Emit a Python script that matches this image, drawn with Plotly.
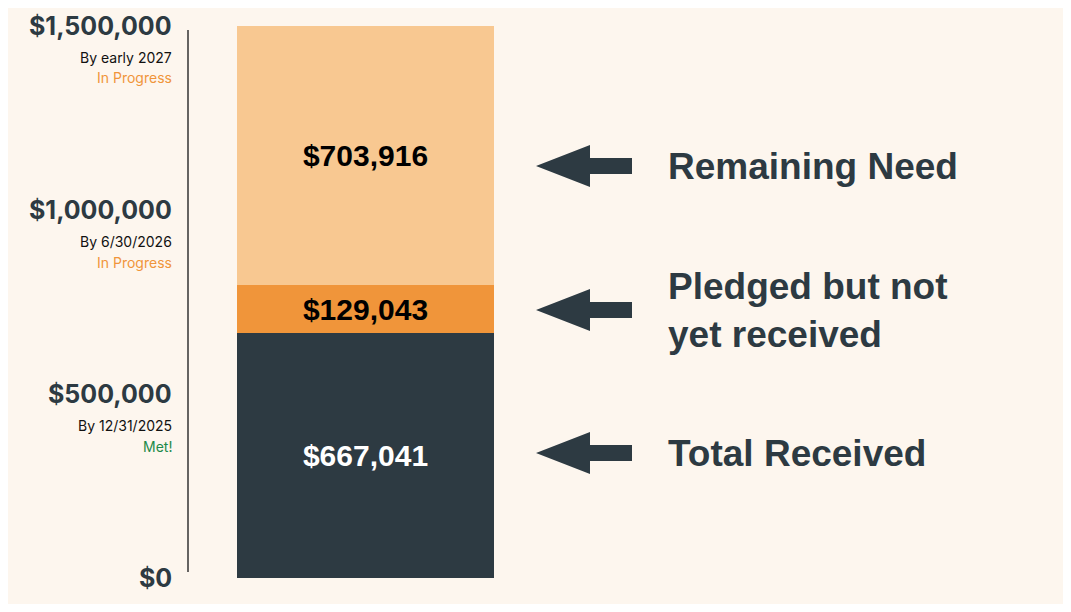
import plotly.graph_objects as go

segments = ["Total Received", "Pledged but not<br>yet received", "Remaining Need"]
values = [667041, 129043, 703916]
colors = ["#2d3a42", "#f0953a", "#f8c891"]
label_colors = ["white", "black", "black"]
label_y_px = [453, 310, 166]

ticks = [0, 500000, 1000000, 1500000]
tick_text = ["$0", "$500,000", "$1,000,000", "$1,500,000"]
tick_sub = [None, "By 12/31/2025", "By 6/30/2026", "By early 2027"]
tick_status = [None, "Met!", "In Progress", "In Progress"]
status_colors = {"Met!": "#1e8a4a", "In Progress": "#f0953a"}

OFF = 8  # page body margin
W, H = 1071 - 2 * OFF, 612 - 2 * OFF
L, TOP, BOT = 188 - OFF, 26 - OFF, 578 - OFF
PW = W - L
YMAX = 1500000

def px_x(p):  # reference pixel column -> paper x
    return (p - OFF - L) / PW

def px_y(p):  # reference pixel row -> paper y
    return (BOT - (p - OFF)) / (BOT - TOP)

fig = go.Figure()
base = 0
for name, v, c, lc in zip(segments, values, colors, label_colors):
    fig.add_trace(go.Bar(
        x=[(237 + 494) / 2 - 188], y=[v], base=[base], width=[257],
        marker=dict(color=c, line=dict(width=0)),
        text=[f"<b>${v:,.0f}</b>"], textposition="inside", insidetextanchor="middle",
        textfont=dict(family="Liberation Sans, Arial", size=30, color=lc),
        showlegend=False, hoverinfo="skip",
    ))
    base += v

ann = []
for t, tt, sub, st in zip(ticks, tick_text, tick_sub, tick_status):
    yp = t / YMAX
    dy = 1 / (BOT - TOP)
    ann.append(dict(x=px_x(174), y=yp, xref="paper", yref="paper", text=f"<b>{tt}</b>",
                    xanchor="right", yanchor="middle", showarrow=False,
                    font=dict(family="Inter", size=25, color="#2d3a42")))
    if sub:
        ann.append(dict(x=px_x(174), y=yp - 31 * dy, xref="paper", yref="paper", text=sub,
                        xanchor="right", yanchor="middle", showarrow=False,
                        font=dict(family="Inter", size=14, color="#111")))
        ann.append(dict(x=px_x(174), y=yp - 52 * dy, xref="paper", yref="paper", text=st,
                        xanchor="right", yanchor="middle", showarrow=False,
                        font=dict(family="Inter", size=14, color=status_colors[st])))

shapes = []
for name, yp in zip(segments, label_y_px):
    yc = px_y(yp)
    s = 8 / (BOT - TOP)
    h = 21 / (BOT - TOP)
    path = (f"M {px_x(632)},{yc - s} L {px_x(590)},{yc - s} L {px_x(590)},{yc - h} "
            f"L {px_x(536)},{yc} L {px_x(590)},{yc + h} L {px_x(590)},{yc + s} "
            f"L {px_x(632)},{yc + s} Z")
    shapes.append(dict(type="path", path=path, xref="paper", yref="paper",
                       fillcolor="#2d3a42", line=dict(width=0)))
    ann.append(dict(x=px_x(666), y=yc, xref="paper", yref="paper", text=f"<b>{name}</b>",
                    xanchor="left", yanchor="middle", align="left", showarrow=False,
                    font=dict(family="Liberation Sans, Arial", size=37, color="#2d3a42")))

shapes.append(dict(type="line", xref="paper", yref="paper", x0=0, x1=0,
                   y0=px_y(572), y1=px_y(30), line=dict(color="#333", width=1.5)))

fig.update_layout(
    width=W, height=H, margin=dict(l=L, r=0, t=TOP, b=H - BOT),
    paper_bgcolor="#fdf6ee", plot_bgcolor="#fdf6ee",
    barmode="overlay", bargap=0,
    xaxis=dict(range=[0, PW], visible=False, fixedrange=True),
    yaxis=dict(range=[0, YMAX], showgrid=False, zeroline=False, showticklabels=False,
               showline=False, fixedrange=True),
    annotations=ann, shapes=shapes,
)
fig.write_html("out.html")
